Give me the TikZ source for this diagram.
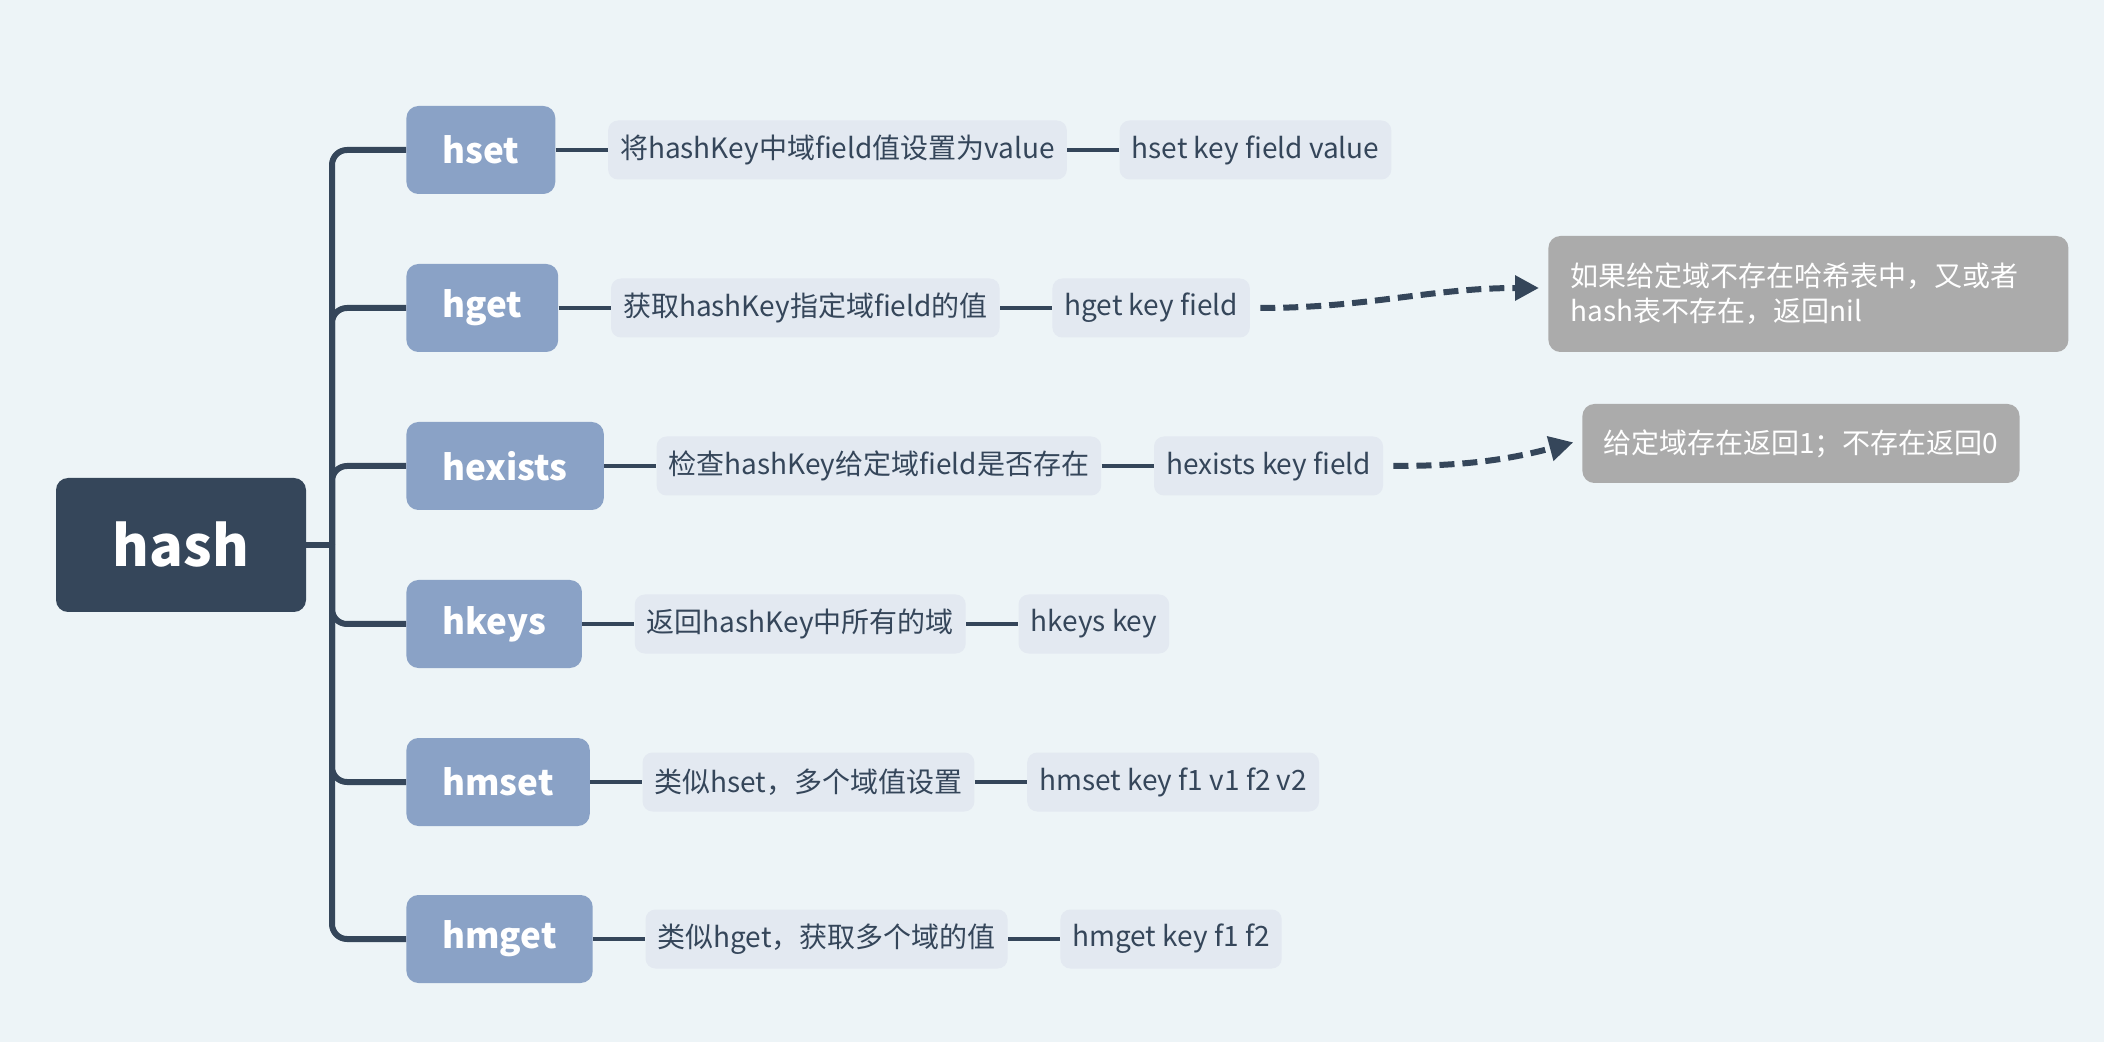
\documentclass[tikz,border=0pt]{standalone}
\usepackage{fontspec}
\setmainfont{Noto Sans CJK SC}
\usetikzlibrary{positioning,arrows.meta}

\definecolor{bgcol}{RGB}{237,244,247}
\definecolor{darkcol}{RGB}{53,70,90}
\definecolor{cmdcol}{RGB}{138,162,198}
\definecolor{desccol}{RGB}{227,233,241}
\definecolor{notecol}{RGB}{171,171,171}

\begin{document}
\begin{tikzpicture}[x=0.5pt, y=-0.5pt, node distance=26pt]
    \tikzstyle{rootnode} = [rectangle, rounded corners=6pt, minimum width=125pt, minimum height=67pt, text centered, fill=darkcol, text=white, font=\fontsize{28}{34}\selectfont\bfseries]
    \tikzstyle{cmdbox} = [rectangle, rounded corners=6pt, minimum height=44pt, inner xsep=18pt, text centered, fill=cmdcol, text=white, anchor=west, font=\fontsize{17.5}{21}\selectfont\bfseries]
    \tikzstyle{descbox} = [rectangle, rounded corners=5pt, minimum height=29.5pt, inner xsep=6pt, text centered, fill=desccol, text=darkcol, font=\fontsize{14}{17}\selectfont]
    \tikzstyle{notebox} = [rectangle, rounded corners=6pt, inner xsep=11pt, fill=notecol, text=white, anchor=west, font=\fontsize{14}{17.5}\selectfont]
    \tikzstyle{trunkline} = [draw=darkcol, line width=3pt]
    \tikzstyle{link} = [draw=darkcol, line width=2.4pt]
    \tikzstyle{dasharrow} = [draw=darkcol, line width=3pt, dash pattern=on 7.5pt off 4pt, -{Triangle[length=12pt, width=12pt]}, shorten <=5pt, shorten >=4.5pt]

    % Background
    \fill [bgcol] (0,0) rectangle (2104,1042);

    % Root
    \node [rootnode] (hash) at (181,545) {hash};
    \coordinate (trunk) at (332,545);

    % Commands
    \node [cmdbox] (hset) at (406,150) {hset};
    \node [cmdbox] (hget) at (406,308) {hget};
    \node [cmdbox] (hexists) at (406,466) {hexists};
    \node [cmdbox] (hkeys) at (406,624) {hkeys};
    \node [cmdbox] (hmset) at (406,782) {hmset};
    \node [cmdbox] (hmget) at (406,939) {hmget};

    % Descriptions
    \node [descbox, right=of hset] (hset_desc) {将hashKey中域field值设置为value};
    \node [descbox, right=of hget] (hget_desc) {获取hashKey指定域field的值};
    \node [descbox, right=of hexists] (hexists_desc) {检查hashKey给定域field是否存在};
    \node [descbox, right=of hkeys] (hkeys_desc) {返回hashKey中所有的域};
    \node [descbox, right=of hmset] (hmset_desc) {类似hset，多个域值设置};
    \node [descbox, right=of hmget] (hmget_desc) {类似hget，获取多个域的值};

    % Usages
    \node [descbox, right=of hset_desc] (hset_usage) {hset key field value};
    \node [descbox, right=of hget_desc] (hget_usage) {hget key field};
    \node [descbox, right=of hexists_desc] (hexists_usage) {hexists key field};
    \node [descbox, right=of hkeys_desc] (hkeys_usage) {hkeys key};
    \node [descbox, right=of hmset_desc] (hmset_usage) {hmset key f1 v1 f2 v2};
    \node [descbox, right=of hmget_desc] (hmget_usage) {hmget key f1 f2};

    % Notes
    \node [notebox, text width=238pt, align=left, minimum height=58pt] (hget_note) at (1548,294) {如果给定域不存在哈希表中，又或者\\hash表不存在，返回nil};
    \node [notebox, minimum height=39.5pt, inner xsep=10.5pt] (hexists_note) at (1582,443.5) {给定域存在返回1；不存在返回0};

    % Tree
    \draw [trunkline] (hash.east) -- (trunk);
    \draw [trunkline, rounded corners=7.5pt] (trunk) |- (hset.west);
    \draw [trunkline, rounded corners=7.5pt] (trunk) |- (hget.west);
    \draw [trunkline, rounded corners=7.5pt] (trunk) |- (hexists.west);
    \draw [trunkline, rounded corners=7.5pt] (trunk) |- (hkeys.west);
    \draw [trunkline, rounded corners=7.5pt] (trunk) |- (hmset.west);
    \draw [trunkline, rounded corners=7.5pt] (trunk) |- (hmget.west);

    % Connections
    \draw [link] (hset) -- (hset_desc);
    \draw [link] (hget) -- (hget_desc);
    \draw [link] (hexists) -- (hexists_desc);
    \draw [link] (hkeys) -- (hkeys_desc);
    \draw [link] (hmset) -- (hmset_desc);
    \draw [link] (hmget) -- (hmget_desc);

    \draw [link] (hset_desc) -- (hset_usage);
    \draw [link] (hget_desc) -- (hget_usage);
    \draw [link] (hexists_desc) -- (hexists_usage);
    \draw [link] (hkeys_desc) -- (hkeys_usage);
    \draw [link] (hmset_desc) -- (hmset_usage);
    \draw [link] (hmget_desc) -- (hmget_usage);

    % Remarks
    \draw [dasharrow] (hget_usage.east) to[out=0, in=180] ([yshift=3pt]hget_note.west);
    \draw [dasharrow] (hexists_usage.east) to[out=0, in=195] ([yshift=1.75pt]hexists_note.west);
\end{tikzpicture}
\end{document}
